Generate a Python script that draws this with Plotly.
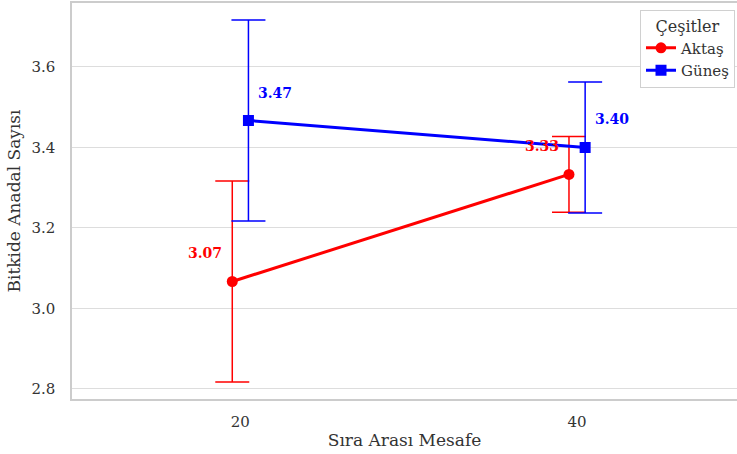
import plotly.graph_objects as go

categories = ["20", "40"]
series_names = ["Aktaş", "Güneş"]
aktas_mean = [3.067, 3.333]
aktas_err = [0.250, 0.094]
gunes_mean = [3.467, 3.400]
gunes_err = [0.250, 0.163]
colors = ["red", "blue"]
symbols = ["circle", "square"]
dodge = [-0.024, 0.024]
label_shift = [-27, 27]

fig = go.Figure()
means = [aktas_mean, gunes_mean]
errs = [aktas_err, gunes_err]
serif = "DejaVu Serif"
for i, name in enumerate(series_names):
    xs = [j + dodge[i] for j in range(len(categories))]
    fig.add_trace(go.Scatter(
        x=xs, y=means[i], name=name, mode="lines+markers",
        line=dict(color=colors[i], width=3),
        marker=dict(symbol=symbols[i], size=11, color=colors[i]),
        error_y=dict(type="data", array=errs[i], visible=True, color=colors[i],
                     thickness=1.5, width=17),
    ))
    for x, y in zip(xs, means[i]):
        fig.add_annotation(x=x, y=y, text=f"<b>{y:.2f}</b>", showarrow=False,
                           xshift=label_shift[i], yshift=28,
                           font=dict(family=serif, size=14, color=colors[i]))

fig.update_layout(
    width=737, height=454,
    margin=dict(l=72, r=0, t=3, b=55),
    plot_bgcolor="white", paper_bgcolor="white",
    font=dict(family=serif, color="#333333", size=15),
    showlegend=True,
    legend=dict(
        x=0.997, y=0.983, xanchor="right", yanchor="top",
        bgcolor="white", bordercolor="#d0d0d0", borderwidth=1,
        title=dict(text="Çeşitler", side="top center",
                   font=dict(family=serif, size=16, color="#333333")),
        font=dict(family=serif, size=15, color="#333333"),
        itemwidth=30, tracegroupgap=0,
    ),
    xaxis=dict(
        range=[-0.5, 1.475], tickvals=[0, 1], ticktext=categories,
        showgrid=False, zeroline=False,
        showline=True, linecolor="#cccccc", linewidth=1.5, mirror=True,
        ticks="", ticklabelstandoff=8,
        title=dict(text="Sıra Arası Mesafe", font=dict(family=serif, size=17, color="#333333"), standoff=4),
        tickfont=dict(family=serif, size=15, color="#333333"),
    ),
    yaxis=dict(
        range=[2.775, 3.759], tickvals=[2.8, 3.0, 3.2, 3.4, 3.6],
        ticktext=["2.8", "3.0", "3.2", "3.4", "3.6"],
        showgrid=True, gridcolor="#dddddd", gridwidth=1, zeroline=False,
        showline=True, linecolor="#cccccc", linewidth=1.5, mirror=False,
        ticks="", ticklabelstandoff=12,
        title=dict(text="Bitkide Anadal Sayısı", font=dict(family=serif, size=17, color="#333333"), standoff=6),
        tickfont=dict(family=serif, size=15, color="#333333"),
    ),
)

fig.write_html("out.html", config={"displayModeBar": False},
               post_script="document.body.style.margin='0';document.body.style.padding='0';")
